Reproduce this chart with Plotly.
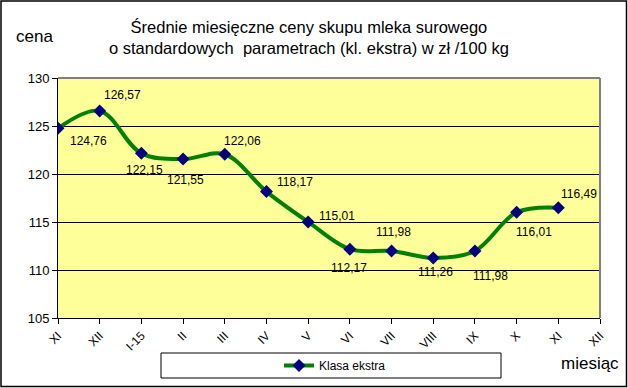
import plotly.graph_objects as go

# ---- data ----
tick_labels = ["XI", "XII", "I-15", "II", "III", "IV", "V", "VI", "VII", "VIII", "IX", "X", "XI", "XII"]
prices = [124.76, 126.57, 122.15, 121.55, 122.06, 118.17, 115.01, 112.17, 111.98, 111.26, 111.98, 116.01, 116.49]
series_name = "Klasa ekstra"
y_ticks = [105, 110, 115, 120, 125, 130]

# ---- label offsets (screen px: dx right, dy down) ----
label_offsets = [(30, 13), (23, -16), (3, 17), (2, 21), (18, -13), (29, -10), (29, -6),
                 (-1, 19), (2, -19), (2, 14), (16, 25), (17, 20), (21, -14)]

W, H = 628, 388
L, R, T, B = 58, 28, 78, 70
PW, PH = W - L - R, H - T - B

def px(xp):
    return (xp - L) / PW

def py(yp):
    return (H - B - yp) / PH

FONT = "Liberation Sans, Arial, sans-serif"

x_idx = list(range(len(prices)))

fig = go.Figure()
fig.add_trace(go.Scatter(
    x=x_idx, y=prices, name=series_name, mode="lines+markers",
    line=dict(color="#008000", width=4, shape="spline", smoothing=1.0),
    marker=dict(symbol="diamond", size=10, color="#000080"),
))

annotations = []
for i, v in enumerate(prices):
    dx, dy = label_offsets[i]
    annotations.append(dict(
        x=i, y=v, xref="x", yref="y", text=f"{v:.2f}".replace(".", ","),
        showarrow=False, xshift=dx, yshift=-dy, xanchor="center", yanchor="middle",
        font=dict(family=FONT, size=12, color="#000000"),
    ))

annotations.append(dict(x=px(34), y=py(37), xref="paper", yref="paper", text="cena",
                        xanchor="center", yanchor="middle",
                        showarrow=False, font=dict(family=FONT, size=17, color="#000000")))
annotations.append(dict(x=px(590), y=py(363), xref="paper", yref="paper", text="miesiąc",
                        xanchor="center", yanchor="middle",
                        showarrow=False, font=dict(family=FONT, size=17, color="#000000")))
annotations.append(dict(
    x=px(309), y=py(38), xref="paper", yref="paper", xanchor="center", yanchor="middle",
    text="Średnie miesięczne ceny skupu mleka surowego<br>o standardowych  parametrach (kl. ekstra) w zł /100 kg",
    showarrow=False, align="center", font=dict(family=FONT, size=16.5, color="#000000")))

shapes = [
    # plot area top and right borders (gray)
    dict(type="line", xref="paper", yref="paper", x0=0, x1=1, y0=1, y1=1,
         line=dict(color="#808080", width=2)),
    dict(type="line", xref="paper", yref="paper", x0=1, x1=1, y0=0, y1=1,
         line=dict(color="#808080", width=2)),
    # legend box
    dict(type="rect", xref="paper", yref="paper", x0=px(161), x1=px(501), y0=py(378), y1=py(353),
         line=dict(color="#000000", width=1), fillcolor="rgba(0,0,0,0)"),
    # outer chart border
    dict(type="rect", xref="paper", yref="paper", x0=px(1), x1=px(626.5), y0=py(386.5), y1=py(1),
         line=dict(color="#000000", width=1.5), fillcolor="rgba(0,0,0,0)"),
]

fig.update_layout(
    width=W, height=H,
    margin=dict(l=L, r=R, t=T, b=B, autoexpand=False),
    paper_bgcolor="#FFFFFF",
    plot_bgcolor="#FFFF99",
    font=dict(family=FONT, size=12, color="#000000"),
    showlegend=True,
    legend=dict(orientation="h", x=px(335), xanchor="center", y=py(365.5), yanchor="middle",
                bgcolor="rgba(0,0,0,0)", borderwidth=0, font=dict(family=FONT, size=12)),
    annotations=annotations,
    shapes=shapes,
)
fig.update_xaxes(
    range=[0, len(tick_labels) - 1], tickmode="array",
    tickvals=list(range(len(tick_labels))), ticktext=tick_labels, tickangle=-45,
    showgrid=False, zeroline=False, showline=True, linecolor="#000000", linewidth=1,
    ticks="outside", ticklen=5, tickcolor="#000000", automargin=False,
    tickfont=dict(family=FONT, size=12),
)
fig.update_yaxes(
    range=[105, 130], tickmode="array", tickvals=y_ticks,
    showgrid=True, gridcolor="#000000", gridwidth=1, zeroline=False,
    showline=True, linecolor="#000000", linewidth=1,
    ticks="outside", ticklen=5, tickcolor="#000000", automargin=False,
    tickfont=dict(family=FONT, size=13),
)

fig.write_html(
    "out.html",
    config={"displayModeBar": False},
    post_script="document.body.style.margin='0';document.body.style.overflow='hidden';",
)
